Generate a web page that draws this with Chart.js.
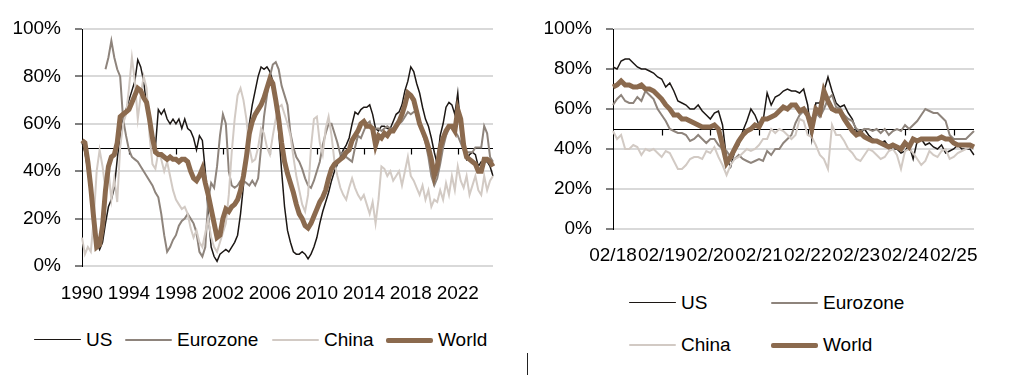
<!DOCTYPE html>
<html>
<head>
<meta charset="utf-8">
<script src="https://cdn.jsdelivr.net/npm/chart.js@4.4.1/dist/chart.umd.min.js"></script>
<style>
  body { margin: 0; background: #fff; width: 1024px; height: 375px; overflow: hidden; position: relative;
         font-family: "Liberation Sans", Arial, sans-serif; }
  #left { position: absolute; left: 0; top: 0; }
  #right { position: absolute; left: 512px; top: 0; }
  .key { position: absolute; font-size: 19px; line-height: 22px; color: #000; white-space: nowrap; }
  .key i { position: absolute; top: 11px; width: 47px; border-top-style: solid; border-radius: 2px; }
  .key span { position: absolute; left: 52px; top: 0; }
  #mark { position: absolute; left: 527px; top: 353px; width: 1px; height: 22px; background: #222; }
</style>
</head>
<body>
<canvas id="left" width="512" height="300"></canvas>
<canvas id="right" width="512" height="265"></canvas>
<div id="mark"></div>
<script>
// series names and colours
var names = ['US', 'Eurozone', 'China', 'World'];
var colors = ['#1c1714', '#8e847c', '#d2cac4', '#8b6a4e'];
var widths = [1.5, 2, 2, 5];

// left chart: quarterly, 1990 Q1 .. 2025 Q1
var leftYearTicks = ['1990', '1994', '1998', '2002', '2006', '2010', '2014', '2018', '2022'];
var leftUS = [52,48,40,30,18,10,7,10,18,25, 28,33,45,55,62,66,70,74,78,87, 84,78,68,60,55,50,66,64,66,62, 60,62,60,62,58,
  62,58,57,54,49,55,53,40,22,8, 4,2,5,6,7,6,8,10,13,22, 34,48,60,68,74,80,84,83,84,82, 78,70,57,40,25,
  15,10,6,5,5,6,5,3,5,8, 12,18,23,27,31,36,40,43,46,49, 51,54,60,65,64,66,67,67,68,64, 58,57,59,59,58,58,
  61,64,65,68,74,78,84,82,77,73, 67,62,59,54,48,43,55,60,67,69, 68,64,73,57,49,45,47,48,47,42, 44,44,44,42,38];
var leftEurozone = [null,null,null,null,null,null,null,null,
  83,88,95,88,83,80,62,55,49,46, 45,44,42,40,38,36,34,31,29,22, 13,6,8,11,13,17,19,
  20,22,20,18,14,6,4,8,28,35, 33,42,55,64,60,40,34,33,34,36, 36,35,34,36,34,37,50,63,72,80, 85,86,83,76,72,
  68,56,50,46,44,41,37,34,33,36, 40,44,51,56,60,60,56,52,47,48, 46,45,44,50,55,54,57,60,61,56, 58,58,57,58,59,58,
  58,59,60,61,63,65,64,65,65,60, 56,52,46,38,34,37,43,50,55,58, 59,57,55,52,49,48,48,48,50,50, 50,59,56,46,44];
var leftChina = [12,5,8,6,20,40,49,42,32,41, 28,37,27,50,60,64,75,88,78,62, 72,80,75,55,43,41,48,45,40,44, 38,32,28,26,24,
  25,22,16,12,15,10,8,14,20,12, 8,6,10,14,18,30,48,62,72,75, 70,62,50,44,45,50,58,56,50,47, 55,62,67,68,64,
  60,55,46,38,32,26,23,30,50,62, 63,52,47,58,63,55,44,38,33,30, 28,33,37,33,30,28,30,26,22,27, 18,28,42,41,38,40,
  36,38,40,34,40,46,38,36,33,30, 34,28,32,25,28,27,32,28,35,30, 38,32,42,36,33,38,30,34,38,32, 30,38,32,36,38];
var leftWorld = [53,52,44,33,20,8,9,17,32,42, 46,47,52,63,64,65,66,69,72,75, 74,71,69,62,54,48,47,47,46,45, 46,45,45,44,45,
  45,44,40,37,36,38,41,35,30,24, 18,12,13,20,24,23,25,26,28,32, 38,46,56,61,64,66,68,71,75,79, 77,70,62,52,44,
  39,35,31,26,22,20,17,16,18,21, 24,27,29,32,37,41,43,44,45,46, 48,49,53,55,57,60,61,59,59,58, 51,55,54,56,55,57,
  57,59,61,64,68,73,72,70,65,60, 57,54,50,45,38,42,50,54,57,59, 59,57,66,62,51,46,45,44,43,40, 40,45,45,44,42];

// right chart: monthly, 02/2018 .. 07/2025
var rightTicks = ['02/18', '02/19', '02/20', '02/21', '02/22', '02/23', '02/24', '02/25'];
var rightUS = [81,80,84,85,85,83,81,80,80,79, 78,76,75,71,73,69,64,63,62,60, 60,62,59,57,55,58,59,52,35,31,
  39,42,49,54,60,57,52,54,68,62, 66,67,69,70,69,69,68,70,62,45, 63,63,69,76,69,63,61,62,58,55,
  49,48,50,47,45,44,43,44,41,40, 40,38,39,42,35,44,45,42,43,41, 40,42,38,39,40,42,40,40,40,37];
var rightEurozone = [62,65,67,64,63,63,66,64,69,67, 65,60,57,54,50,49,48,48,47,44, 45,47,45,43,45,45,42,40,39,36,
  35,37,35,34,33,34,35,34,39,37, 40,40,43,45,47,53,57,59,57,55, 58,56,60,65,67,61,60,57,55,54,
  50,49,50,50,49,50,48,50,47,49, 50,49,52,50,52,54,57,60,59,58, 58,56,54,47,45,45,45,45,47,49];
var rightChina = [49,45,47,40,40,42,41,37,40,39, 40,38,36,39,38,34,30,30,32,35, 36,36,35,39,38,41,36,32,27,32,
  35,36,38,40,39,40,42,45,45,50, 48,50,49,47,45,47,55,54,47,46, 42,37,35,30,52,47,47,44,40,38,
  35,34,37,40,39,37,35,36,39,40, 37,30,39,40,38,35,32,34,39,37, 36,39,40,35,36,38,39,40,41,42];
var rightWorld = [71,72,74,72,72,71,71,72,70,70, 69,67,65,62,60,57,57,55,55,54, 53,52,51,51,51,52,50,42,33,36,
  40,44,47,49,50,52,51,55,55,56, 57,59,61,60,62,62,59,60,57,50, 60,58,69,64,60,59,59,55,52,49,
  47,48,46,45,44,44,43,42,41,42, 41,40,43,41,45,44,45,45,45,45, 45,46,45,45,43,42,42,42,42,41];

// category labels
var leftLabels = [];
for (var y = 1990; leftLabels.length < leftWorld.length; y++) {
    for (var q = 1; q <= 4 && leftLabels.length < leftWorld.length; q++) {
        leftLabels.push(y + ' Q' + q);
    }
}
var rightLabels = [];
for (var m = 0; m < rightWorld.length; m++) {
    var mm = (1 + m) % 12 + 1;
    var yy = 18 + Math.floor((m + 1) / 12);
    rightLabels.push((mm < 10 ? '0' : '') + mm + '/' + yy);
}

// 50% axis line with small ticks
var midLine = {
    id: 'midLine',
    beforeDatasetsDraw(chart, args, opts) {
        var ctx = chart.ctx, area = chart.chartArea, sx = chart.scales.x;
        var y = Math.round(chart.scales.y.getPixelForValue(50)) + 0.5;
        ctx.save();
        ctx.strokeStyle = '#000';
        ctx.lineWidth = 1.2;
        ctx.beginPath();
        ctx.moveTo(area.left, y);
        ctx.lineTo(area.right, y);
        for (var i = opts.step; i < chart.data.labels.length; i += opts.step) {
            var x = Math.round(sx.getPixelForValue(i)) + 0.5;
            ctx.moveTo(x, y);
            ctx.lineTo(x, y + 6);
        }
        ctx.stroke();
        ctx.restore();
    }
};

function makeDatasets(series) {
    return series.map(function (d, i) {
        return {
            label: names[i],
            data: d,
            borderColor: colors[i],
            borderWidth: widths[i],
            pointRadius: 0,
            tension: 0,
            order: 4 - i
        };
    });
}

function makeOptions(yWidth, xHeight, padRight, tickFn, step, xPad) {
    return {
        responsive: false,
        animation: false,
        layout: { padding: { top: 29, right: padRight, bottom: 0, left: 0 } },
        plugins: { legend: { display: false }, tooltip: { enabled: false }, midLine: { step: step } },
        scales: {
            x: {
                type: 'category',
                grid: { display: false, drawTicks: false },
                border: { display: false },
                afterFit: function (s) { s.height = xHeight; },
                ticks: {
                    autoSkip: false, maxRotation: 0, minRotation: 0, padding: xPad,
                    color: '#000', font: { family: 'Liberation Sans', size: 19 },
                    callback: tickFn
                }
            },
            y: {
                min: 0, max: 100,
                afterFit: function (s) { s.width = yWidth; },
                grid: { color: '#d9d9d9', lineWidth: 2, tickLength: 7, tickColor: '#000', tickWidth: 1 },
                border: { color: '#000', width: 1 },
                ticks: {
                    stepSize: 20, padding: 14, color: '#000',
                    font: { family: 'Liberation Sans', size: 19 },
                    callback: function (v) { return v + '%'; }
                }
            }
        }
    };
}

new Chart(document.getElementById('left'), {
    type: 'line',
    data: { labels: leftLabels, datasets: makeDatasets([leftUS, leftEurozone, leftChina, leftWorld]) },
    options: makeOptions(82, 34, 19, function (v, i) {
        return i % 16 === 0 ? leftYearTicks[i / 16] : null;
    }, 16, 16),
    plugins: [midLine]
});

new Chart(document.getElementById('right'), {
    type: 'line',
    data: { labels: rightLabels, datasets: makeDatasets([rightUS, rightEurozone, rightChina, rightWorld]) },
    options: makeOptions(101, 36, 50, function (v, i) {
        return i % 12 === 0 ? rightTicks[i / 12] : null;
    }, 12, 15),
    plugins: [midLine]
});

// legends
function addKey(x, y, idx) {
    var d = document.createElement('div');
    d.className = 'key';
    d.style.left = x + 'px';
    d.style.top = (y - 11) + 'px';
    var line = document.createElement('i');
    line.style.borderTopColor = colors[idx];
    line.style.borderTopWidth = widths[idx] + 'px';
    line.style.marginTop = (-widths[idx] / 2) + 'px';
    var t = document.createElement('span');
    t.textContent = names[idx];
    d.appendChild(line);
    d.appendChild(t);
    document.body.appendChild(d);
}
addKey(34, 340, 0);
addKey(125, 340, 1);
addKey(272, 340, 2);
addKey(386, 340, 3);
addKey(629, 303, 0);
addKey(771, 303, 1);
addKey(629, 345, 2);
addKey(771, 345, 3);
</script>
</body>
</html>
